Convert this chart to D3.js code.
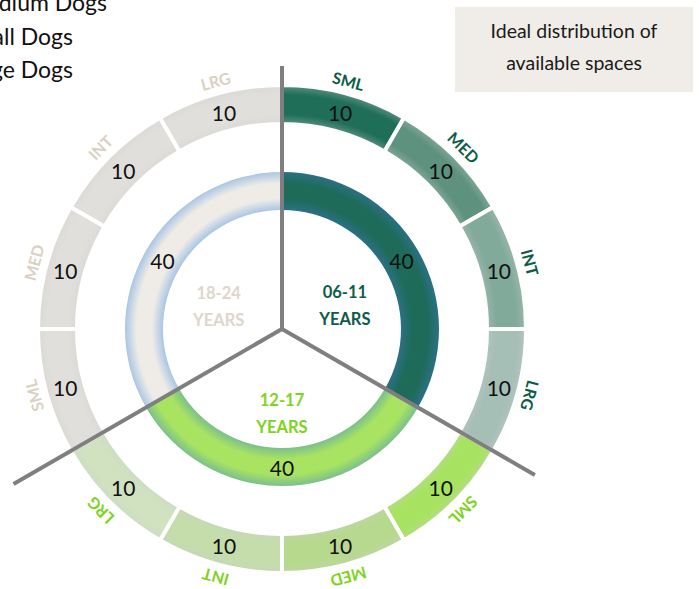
<!DOCTYPE html>
<html>
<head>
<meta charset="utf-8">
<script src="https://cdn.jsdelivr.net/npm/d3@7"></script>
<style>
  body { margin: 0; background: #fff; }
  svg { display: block; font-family: Lato, "Open Sans", sans-serif; }
</style>
</head>
<body>
<div id="vis"></div>
<script>
// constants for frame
const FRAME_WIDTH = 699;
const FRAME_HEIGHT = 589;
const CX = 282, CY = 329;

// dataset
const groups = ["06-11", "12-17", "18-24"];
const groupValues = [40, 40, 40];
const sizes = ["SML", "MED", "INT", "LRG"];
const sizeValues = [
  [10, 10, 10, 10],
  [10, 10, 10, 10],
  [10, 10, 10, 10]
];
const legendLabels = ["Medium Dogs", "Small Dogs", "Large Dogs"];
const boxLines = ["Ideal distribution of", "available spaces"];

// styles
const groupColor = ["#1d6b58", "#a8e462", "#efece7"];
const groupEdge = ["#2c7085", "#7cbf8c", "#a9c6e4"];
const segColors = [
  ["#1f6e58", "#5e927f", "#81aa9b", "#a5beb6"],
  ["#a7e360", "#b7d98d", "#c4ddab", "#d0e2c0"],
  ["#e0dfdc", "#e0dfdc", "#e0dfdc", "#e0dfdc"]
];
const labelColor = ["#0d5c48", "#7dd321", "#dcd0c3"];

// radii
const R_IN = [119, 157];
const R_OUT = [205, 244];

const svg = d3.select("#vis")
  .append("svg")
    .attr("width", FRAME_WIDTH)
    .attr("height", FRAME_HEIGHT);

const defs = svg.append("defs");
const g = svg.append("g").attr("transform", "translate(" + CX + "," + CY + ")");

// soft edge radial gradient across a ring
function ringGradient(id, r0, r1, main, edge, soft) {
  const grad = defs.append("radialGradient")
    .attr("id", id)
    .attr("gradientUnits", "userSpaceOnUse")
    .attr("cx", 0).attr("cy", 0).attr("r", r1);
  const f0 = r0 / r1, w = (1 - f0);
  [[f0, edge], [f0 + w * soft, main], [1 - w * soft, main], [1, edge]].forEach(s => {
    grad.append("stop").attr("offset", s[0]).attr("stop-color", s[1]);
  });
  return "url(#" + id + ")";
}

const pie = d3.pie().sort(null).value(d => d);

// inner ring
const innerArcs = pie(groupValues);
const innerArc = d3.arc().innerRadius(R_IN[0]).outerRadius(R_IN[1]);

g.selectAll(".inner")
  .data(innerArcs)
  .enter()
  .append("path")
    .attr("d", innerArc)
    .attr("fill", (d, i) => ringGradient("gi" + i, R_IN[0], R_IN[1], groupColor[i], groupEdge[i], 0.3));

g.selectAll(".innerVal")
  .data(innerArcs)
  .enter()
  .append("text")
    .attr("transform", d => "translate(" + innerArc.centroid(d) + ")")
    .attr("text-anchor", "middle")
    .attr("dominant-baseline", "central")
    .attr("font-size", 21)
    .attr("fill", "#111")
    .text(d => d.data);

// outer ring
const outerData = [];
sizeValues.forEach((vals, gi) => vals.forEach((v, si) => outerData.push({g: gi, s: si, v: v})));
const outerArcs = pie.value(d => d.v)(outerData);
const outerArc = d3.arc().innerRadius(R_OUT[0]).outerRadius(R_OUT[1]);

g.selectAll(".outer")
  .data(outerArcs)
  .enter()
  .append("path")
    .attr("d", outerArc)
    .attr("fill", (d, i) => {
      const c = segColors[d.data.g][d.data.s];
      const e = d3.interpolateRgb(c, d.data.g === 2 ? "#cfcdca" : "#c8d0cc")(0.35);
      return ringGradient("go" + i, R_OUT[0], R_OUT[1], c, e, 0.25);
    })
    .attr("stroke", "#fff")
    .attr("stroke-width", 4);

g.selectAll(".outerVal")
  .data(outerArcs)
  .enter()
  .append("text")
    .attr("transform", d => "translate(" + outerArc.centroid(d) + ")")
    .attr("text-anchor", "middle")
    .attr("dominant-baseline", "central")
    .attr("font-size", 21)
    .attr("fill", "#111")
    .text(d => d.data.v);

// size labels around outside
const R_LABEL = 257;
g.selectAll(".sizeLbl")
  .data(outerArcs)
  .enter()
  .append("text")
    .attr("transform", d => {
      const a = (d.startAngle + d.endAngle) / 2;
      return "translate(" + (R_LABEL * Math.sin(a)) + "," + (-R_LABEL * Math.cos(a)) + ")rotate(" + (a * 180 / Math.PI) + ")";
    })
    .attr("text-anchor", "middle")
    .attr("dominant-baseline", "central")
    .attr("font-size", 16)
    .attr("font-weight", "bold")
    .attr("fill", d => labelColor[d.data.g])
    .text(d => sizes[d.data.s]);

// divider lines
const lineLen = [263, 292, 310];
g.selectAll(".divider")
  .data(innerArcs)
  .enter()
  .append("line")
    .attr("x1", 0).attr("y1", 0)
    .attr("x2", (d, i) => lineLen[i] * Math.sin(d.startAngle))
    .attr("y2", (d, i) => -lineLen[i] * Math.cos(d.startAngle))
    .attr("stroke", "#7f7f7f")
    .attr("stroke-width", 4);

// group labels in the middle
g.selectAll(".groupLbl")
  .data(innerArcs)
  .enter()
  .append("text")
    .attr("transform", (d, i) => {
      const mid = (d.startAngle + d.endAngle) / 2;
      const a = i === 0 ? mid + 0.17 : i === 2 ? mid - 0.19 : mid;
      const r = i === 1 ? 85 : 67;
      return "translate(" + (r * Math.sin(a)) + "," + (-r * Math.cos(a)) + ")";
    })
    .attr("text-anchor", "middle")
    .attr("font-size", 16.5)
    .attr("font-weight", "bold")
    .attr("fill", (d, i) => i === 2 ? "#e0d6ca" : labelColor[i])
    .each(function(d, i) {
      d3.select(this).append("tspan").attr("x", 0).attr("y", -8).text(groups[i]);
      d3.select(this).append("tspan").attr("x", 0).attr("y", 19).text("YEARS");
    });

// legend (partly off the left edge)
const legendEnd = [107, 73, 73];
svg.selectAll(".legend")
  .data(legendLabels)
  .enter()
  .append("text")
    .attr("x", (d, i) => legendEnd[i])
    .attr("y", (d, i) => 11 + i * 33.5)
    .attr("text-anchor", "end")
    .attr("font-size", 23)
    .attr("fill", "#111")
    .text(d => d);

// note box
svg.append("rect")
  .attr("x", 455).attr("y", 7)
  .attr("width", 238).attr("height", 85)
  .attr("fill", "#f0ede8");

svg.selectAll(".boxTxt")
  .data(boxLines)
  .enter()
  .append("text")
    .attr("x", 574)
    .attr("y", (d, i) => 38 + i * 32)
    .attr("text-anchor", "middle")
    .attr("font-size", 19.5)
    .attr("fill", "#1a1a1a")
    .text(d => d);
</script>
</body>
</html>
